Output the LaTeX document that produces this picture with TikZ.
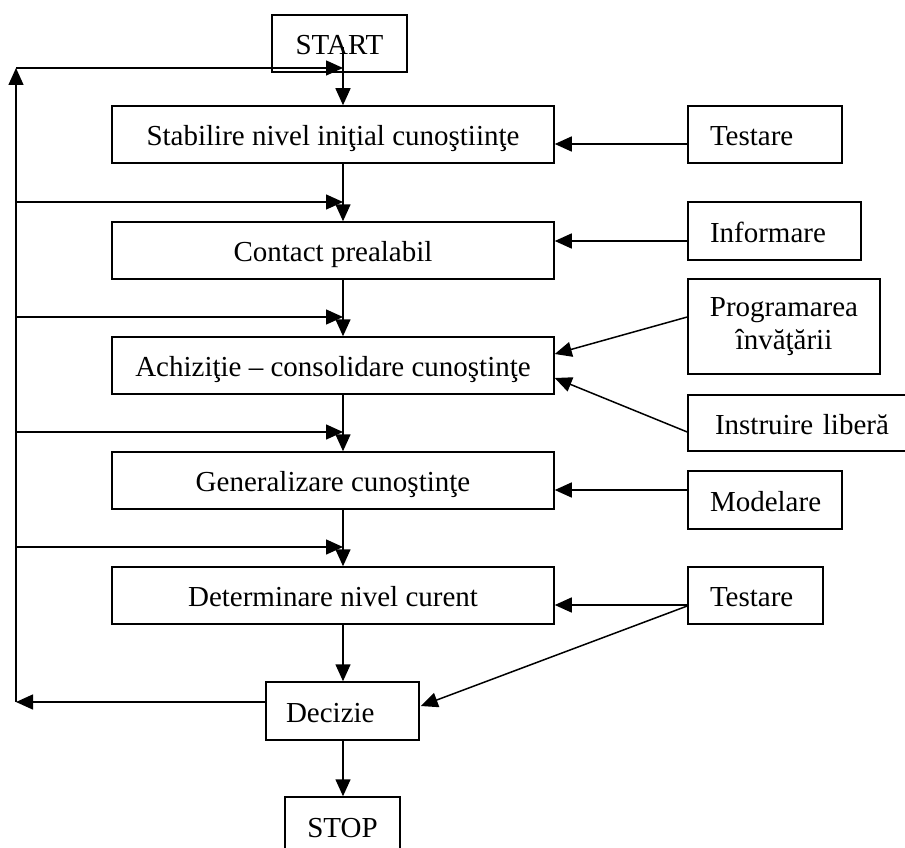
\documentclass[tikz,border=0pt]{standalone}
\usepackage{fontspec}
\setmainfont{Liberation Serif}
\usetikzlibrary{arrows.meta,calc}
\begin{document}
\begin{tikzpicture}[x=1pt,y=-1pt,
  every node/.style={font=\fontsize{29}{33}\selectfont},
  tx/.style={text height=24pt,text depth=2pt},
  box/.style={draw,line width=1.5pt,inner sep=0pt,align=center},
  lbox/.style={draw,line width=1.5pt,inner ysep=0pt,align=left,tx},
  arr/.style={line width=1.5pt,-{Triangle[length=17pt,width=15pt]}}]
\useasboundingbox (0,0) rectangle (905,848);

% main column
\node[box,tx,minimum width=135,minimum height=57] (start) at (339.5,43.5) {START};
\node[box,tx,minimum width=442,minimum height=57] (stab) at (333,134.5) {Stabilire nivel iniţial cunoştiinţe};
\node[box,tx,minimum width=442,minimum height=57] (cont) at (333,250.5) {Contact prealabil};
\node[box,tx,minimum width=442,minimum height=57] (achiz) at (333,365.5) {Achiziţie – consolidare cunoştinţe};
\node[box,tx,minimum width=442,minimum height=57] (gen) at (333,480.5) {Generalizare cunoştinţe};
\node[box,tx,minimum width=442,minimum height=57] (det) at (333,595.5) {Determinare nivel curent};
\node[lbox,minimum height=58,text width=113,inner xsep=20] (dec) at (342.5,711) {Decizie};
\node[box,tx,minimum width=115,minimum height=58] (stop) at (342.5,826) {STOP};

% side inputs
\node[lbox,minimum height=57,text width=110,inner xsep=22] (test1) at (765,134.5) {Testare};
\node[lbox,minimum height=58,text width=129,inner xsep=22] (info) at (774.5,231) {Informare};
\node[box,minimum width=192,minimum height=95] (prog) at (784,326.5) {Programarea\\învăţării};
\node[lbox,minimum height=56,text width=186,inner xsep=27] (instr) at (808,423) {Instruire liberă};
\node[lbox,minimum height=58,text width=110,inner xsep=22] (model) at (765,500) {Modelare};
\node[lbox,minimum height=57,text width=91,inner xsep=22] (test2) at (755.5,595.5) {Testare};

% spine and loop-back line
\coordinate (sp) at (343,0);
\coordinate (Lt) at (16,68);
\coordinate (Lb) at (16,702);
\coordinate (L1) at (16,202);
\coordinate (L2) at (16,317);
\coordinate (L3) at (16,432);
\coordinate (L4) at (16,547);

% main flow
\draw[arr] ([yshift=-3.5pt]start.center -| sp) -- (stab.north -| sp);
\draw[arr] (stab.south -| sp) -- (cont.north -| sp);
\draw[arr] (cont.south -| sp) -- (achiz.north -| sp);
\draw[arr] (achiz.south -| sp) -- (gen.north -| sp);
\draw[arr] (gen.south -| sp) -- (det.north -| sp);
\draw[arr] (det.south -| sp) -- (dec.north -| sp);
\draw[arr] (dec.south -| sp) -- (stop.north -| sp);

% feedback
\draw[arr] (dec.west |- Lb) -- (Lb);
\draw[arr] (Lb) -- (Lt);
\draw[arr] (Lt) -- (Lt -| sp);
\draw[arr] (L1) -- (L1 -| sp);
\draw[arr] (L2) -- (L2 -| sp);
\draw[arr] (L3) -- (L3 -| sp);
\draw[arr] (L4) -- (L4 -| sp);

% inputs
\draw[arr] ([yshift=-9.5pt]test1.west) -- ([yshift=-9.5pt]test1.west -| stab.east);
\draw[arr] ([yshift=-10pt]info.west) -- ([yshift=-10pt]info.west -| cont.east);
\draw[arr] ([yshift=9.5pt]prog.west) -- ([yshift=11.5pt]achiz.east);
\draw[arr] ([yshift=-9pt]instr.west) -- ([yshift=-12.5pt]achiz.east);
\draw[arr] ([yshift=10pt]model.west) -- ([yshift=10pt]model.west -| gen.east);
\draw[arr] ([yshift=-9.5pt]test2.west) -- ([yshift=-9.5pt]test2.west -| det.east);
\draw[arr] ([yshift=-10.5pt]test2.west) -- ([xshift=1pt,yshift=5pt]dec.east);
\end{tikzpicture}
\end{document}
